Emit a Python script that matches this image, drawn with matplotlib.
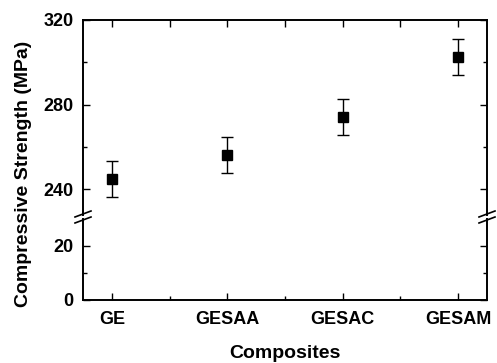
"""
Druckfestigkeit der Verbundwerkstoffe mit unterbrochener y-Achse.
"""

import matplotlib
matplotlib.use("Agg")
import matplotlib.pyplot as plt
from matplotlib.lines import Line2D

# Daten
composites = ["GE", "GESAA", "GESAC", "GESAM"]
strength = [244.9, 256.1, 274.2, 302.5]
strength_err = [8.4, 8.4, 8.4, 8.4]

upper_ticks = [240, 280, 320]
lower_ticks = [0, 20]

plt.rcParams["font.family"] = ["Liberation Sans", "DejaVu Sans"]
plt.rcParams["font.weight"] = "bold"

W, H = 497, 363
fig = plt.figure(figsize=(W / 100, H / 100), dpi=100)


def px(x0, y0, x1, y1):
    # Pixelkoordinaten (oben links) -> Figurenkoordinaten [l, b, w, h]
    return [x0 / W, 1 - y1 / H, (x1 - x0) / W, (y1 - y0) / H]


ax_top = fig.add_axes(px(83, 20, 487, 215))
ax_bot = fig.add_axes(px(83, 219, 487, 300))

xpos = list(range(len(composites)))

for ax in (ax_top, ax_bot):
    ax.errorbar(xpos, strength, yerr=strength_err, fmt="s", color="black",
                ms=6.5, capsize=4.2, elinewidth=1.0, capthick=1.0)
    ax.set_xlim(-0.25, 3.25)
    for s in ax.spines.values():
        s.set_linewidth(1.4)
    ax.tick_params(which="both", direction="in", top=True, right=True,
                   width=1.0, labelsize=13)
    ax.tick_params(which="major", length=5)
    ax.tick_params(which="minor", length=3)
    ax.set_xticks([0.5, 1.5, 2.5], minor=True)

ax_top.set_ylim(227.85, 320)
ax_top.set_yticks(upper_ticks)
ax_top.set_yticks([260, 300], minor=True)
ax_top.spines["bottom"].set_visible(False)
ax_top.tick_params(axis="x", which="both", bottom=False, labelbottom=False)
ax_top.tick_params(axis="y", pad=7)

ax_bot.set_ylim(0, 29.83)
ax_bot.set_yticks(lower_ticks)
ax_bot.set_yticks([10], minor=True)
ax_bot.spines["top"].set_visible(False)
ax_bot.tick_params(axis="x", which="both", top=False, pad=8)
ax_bot.tick_params(axis="y", pad=7)
ax_bot.set_xticks(xpos)
ax_bot.set_xticklabels(composites, fontweight="bold")

for lab in ax_top.get_yticklabels() + ax_bot.get_yticklabels():
    lab.set_fontweight("bold")

# Achsenbruch-Markierungen
for xc in (83, 487):
    for dy in (-3, 3):
        yc = 217 + dy
        fig.add_artist(Line2D([(xc - 8) / W, (xc + 8) / W],
                              [1 - (yc + 3) / H, 1 - (yc - 3) / H],
                              color="black", lw=1.2))

fig.text(24 / W, 1 - 174 / H, "Compressive Strength (MPa)", rotation=90,
         ha="center", va="center", fontsize=14, fontweight="bold")
fig.text(285 / W, 1 - 354 / H, "Composites", ha="center", va="center",
         fontsize=14, fontweight="bold")

fig.savefig("out.png", dpi=100)
